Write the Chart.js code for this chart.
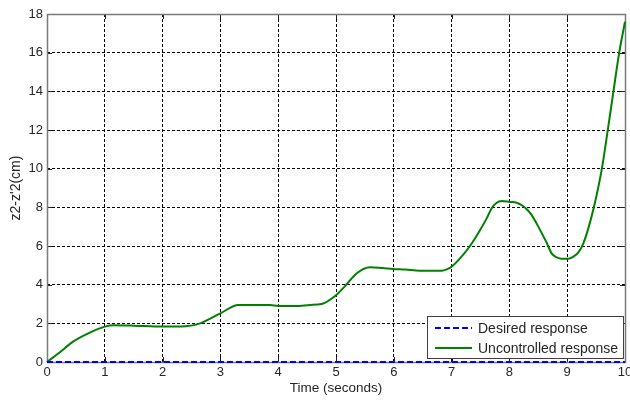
<!DOCTYPE html>
<html>
<head>
<meta charset="utf-8">
<script src="https://cdn.jsdelivr.net/npm/chart.js@4/dist/chart.umd.min.js"></script>
<style>
  html, body { margin: 0; padding: 0; background: #fff; }
  #wrap { width: 630px; height: 401px; position: relative; }
</style>
</head>
<body>
<div id="wrap"><canvas id="c" width="630" height="401"></canvas></div>
<script>
// Time samples (s) and measured output z2 - z'2 (cm) for the uncontrolled system
const timeSec = [0, 0.2, 0.45, 0.74, 1.0, 1.15, 1.5, 2.0, 2.4, 2.65, 3.0, 3.31, 3.6, 3.86, 4.0, 4.3, 4.55, 4.75,
                 4.99, 5.15, 5.36, 5.59, 5.8, 5.99, 6.2, 6.45, 6.83, 6.915, 7.0, 7.145, 7.318, 7.46, 7.607, 7.693,
                 7.78, 7.867, 8.01, 8.126, 8.21, 8.30, 8.386, 8.47, 8.56, 8.645, 8.73, 8.82, 8.905, 9.02, 9.105,
                 9.19, 9.28, 9.365, 9.45, 9.54, 9.6, 9.7, 9.8, 9.9, 10.0];
const uncontrolled = [0, 0.45, 1.05, 1.52, 1.83, 1.9, 1.88, 1.83, 1.85, 2.0, 2.52, 2.95, 2.95, 2.95, 2.9, 2.9, 2.95, 3.0,
                      3.43, 3.9, 4.59, 4.9, 4.86, 4.81, 4.78, 4.72, 4.72, 4.79, 4.93, 5.36, 6.0, 6.66, 7.43, 7.95,
                      8.24, 8.33, 8.28, 8.24, 8.12, 7.9, 7.6, 7.17, 6.66, 6.17, 5.62, 5.41, 5.34, 5.34, 5.45,
                      5.66, 6.14, 6.91, 7.86, 9.07, 10.0, 11.95, 14.0, 16.0, 17.6];
// Desired response is identically zero over the window
const desiredTime = [0, 10];
const desired = [0, 0];

const xTicks = [0, 1, 2, 3, 4, 5, 6, 7, 8, 9, 10];
const yTicks = [0, 2, 4, 6, 8, 10, 12, 14, 16, 18];

const FONT = "'Liberation Sans', Arial, sans-serif";
const TEXT = '#262626';

// Axes box and inward tick marks, drawn under the curves
const boxPlugin = {
  id: 'box',
  beforeDatasetsDraw(chart) {
    const { ctx, chartArea: a, scales } = chart;
    ctx.save();
    ctx.strokeStyle = '#202020';
    ctx.lineWidth = 1;
    ctx.beginPath();
    xTicks.forEach(v => {
      const px = Math.round(scales.x.getPixelForValue(v)) + 0.5;
      ctx.moveTo(px, a.bottom); ctx.lineTo(px, a.bottom - 5);
      ctx.moveTo(px, a.top); ctx.lineTo(px, a.top + 5);
    });
    yTicks.forEach(v => {
      const py = Math.round(scales.y.getPixelForValue(v)) + 0.5;
      ctx.moveTo(a.left, py); ctx.lineTo(a.left + 5, py);
      ctx.moveTo(a.right, py); ctx.lineTo(a.right - 5, py);
    });
    ctx.stroke();
    ctx.strokeStyle = '#7a7a7a';
    ctx.lineWidth = 1.5;
    ctx.strokeRect(Math.round(a.left) + 0.5, Math.round(a.top) + 0.5,
                   Math.round(a.right - a.left), Math.round(a.bottom - a.top));
    ctx.restore();
  }
};

// Legend box in the lower-right corner of the plot
const legendPlugin = {
  id: 'cornerLegend',
  afterDatasetsDraw(chart) {
    const { ctx } = chart;
    const lx = 427, ly = 316, lw = 196, lh = 42;
    ctx.save();
    ctx.fillStyle = '#fff';
    ctx.fillRect(lx, ly, lw, lh);
    ctx.strokeStyle = '#404040';
    ctx.lineWidth = 1;
    ctx.strokeRect(lx + 0.5, ly + 0.5, lw, lh);
    ctx.font = '14px ' + FONT;
    ctx.fillStyle = TEXT;
    ctx.textBaseline = 'middle';
    chart.data.datasets.forEach((ds, i) => {
      const yy = ly + 12 + i * 20;
      ctx.strokeStyle = ds.borderColor;
      ctx.lineWidth = ds.borderWidth;
      ctx.setLineDash(ds.borderDash || []);
      ctx.beginPath();
      ctx.moveTo(lx + 8, yy); ctx.lineTo(lx + 45, yy);
      ctx.stroke();
      ctx.setLineDash([]);
      ctx.fillText(ds.label, lx + 51, yy + 1);
    });
    ctx.restore();
  }
};

new Chart(document.getElementById('c'), {
  type: 'line',
  data: {
    datasets: [
      {
        label: 'Desired response',
        data: desiredTime.map((t, i) => ({ x: t, y: desired[i] })),
        borderColor: '#0000ff',
        borderWidth: 2,
        borderDash: [6, 3],
        pointRadius: 0,
        tension: 0,
        clip: 4
      },
      {
        label: 'Uncontrolled response',
        data: timeSec.map((t, i) => ({ x: t, y: uncontrolled[i] })),
        borderColor: '#008000',
        borderWidth: 2,
        pointRadius: 0,
        cubicInterpolationMode: 'monotone',
        clip: 4
      }
    ]
  },
  options: {
    responsive: false,
    animation: false,
    events: [],
    layout: { padding: { left: 0, right: 5, top: 14, bottom: 0 } },
    plugins: { legend: { display: false }, tooltip: { enabled: false } },
    scales: {
      x: {
        type: 'linear',
        min: 0, max: 10,
        afterBuildTicks: s => { s.ticks = xTicks.map(v => ({ value: v })); },
        afterFit: s => { s.height = 39; s.paddingLeft = 0; s.paddingRight = 0; },
        grid: { color: '#000', lineWidth: 1, drawTicks: false },
        border: { display: false, dash: [3, 2] },
        ticks: { padding: 3, color: TEXT, font: { family: FONT, size: 13 }, maxRotation: 0 },
        title: { display: true, text: 'Time (seconds)', color: TEXT,
                 font: { family: FONT, size: 13.5 }, padding: { top: 0, bottom: 5 } }
      },
      y: {
        type: 'linear',
        min: 0, max: 18,
        afterBuildTicks: s => { s.ticks = yTicks.map(v => ({ value: v })); },
        afterFit: s => { s.width = 47; s.paddingTop = 0; s.paddingBottom = 0; },
        grid: { color: '#000', lineWidth: 1, drawTicks: false },
        border: { display: false, dash: [3, 2] },
        ticks: { padding: 4, color: TEXT, font: { family: FONT, size: 13 } },
        title: { display: true, text: "z2-z'2(cm)", color: TEXT,
                 font: { family: FONT, size: 14 }, padding: { top: 8, bottom: 0 } }
      }
    }
  },
  plugins: [boxPlugin, legendPlugin]
});
</script>
</body>
</html>
